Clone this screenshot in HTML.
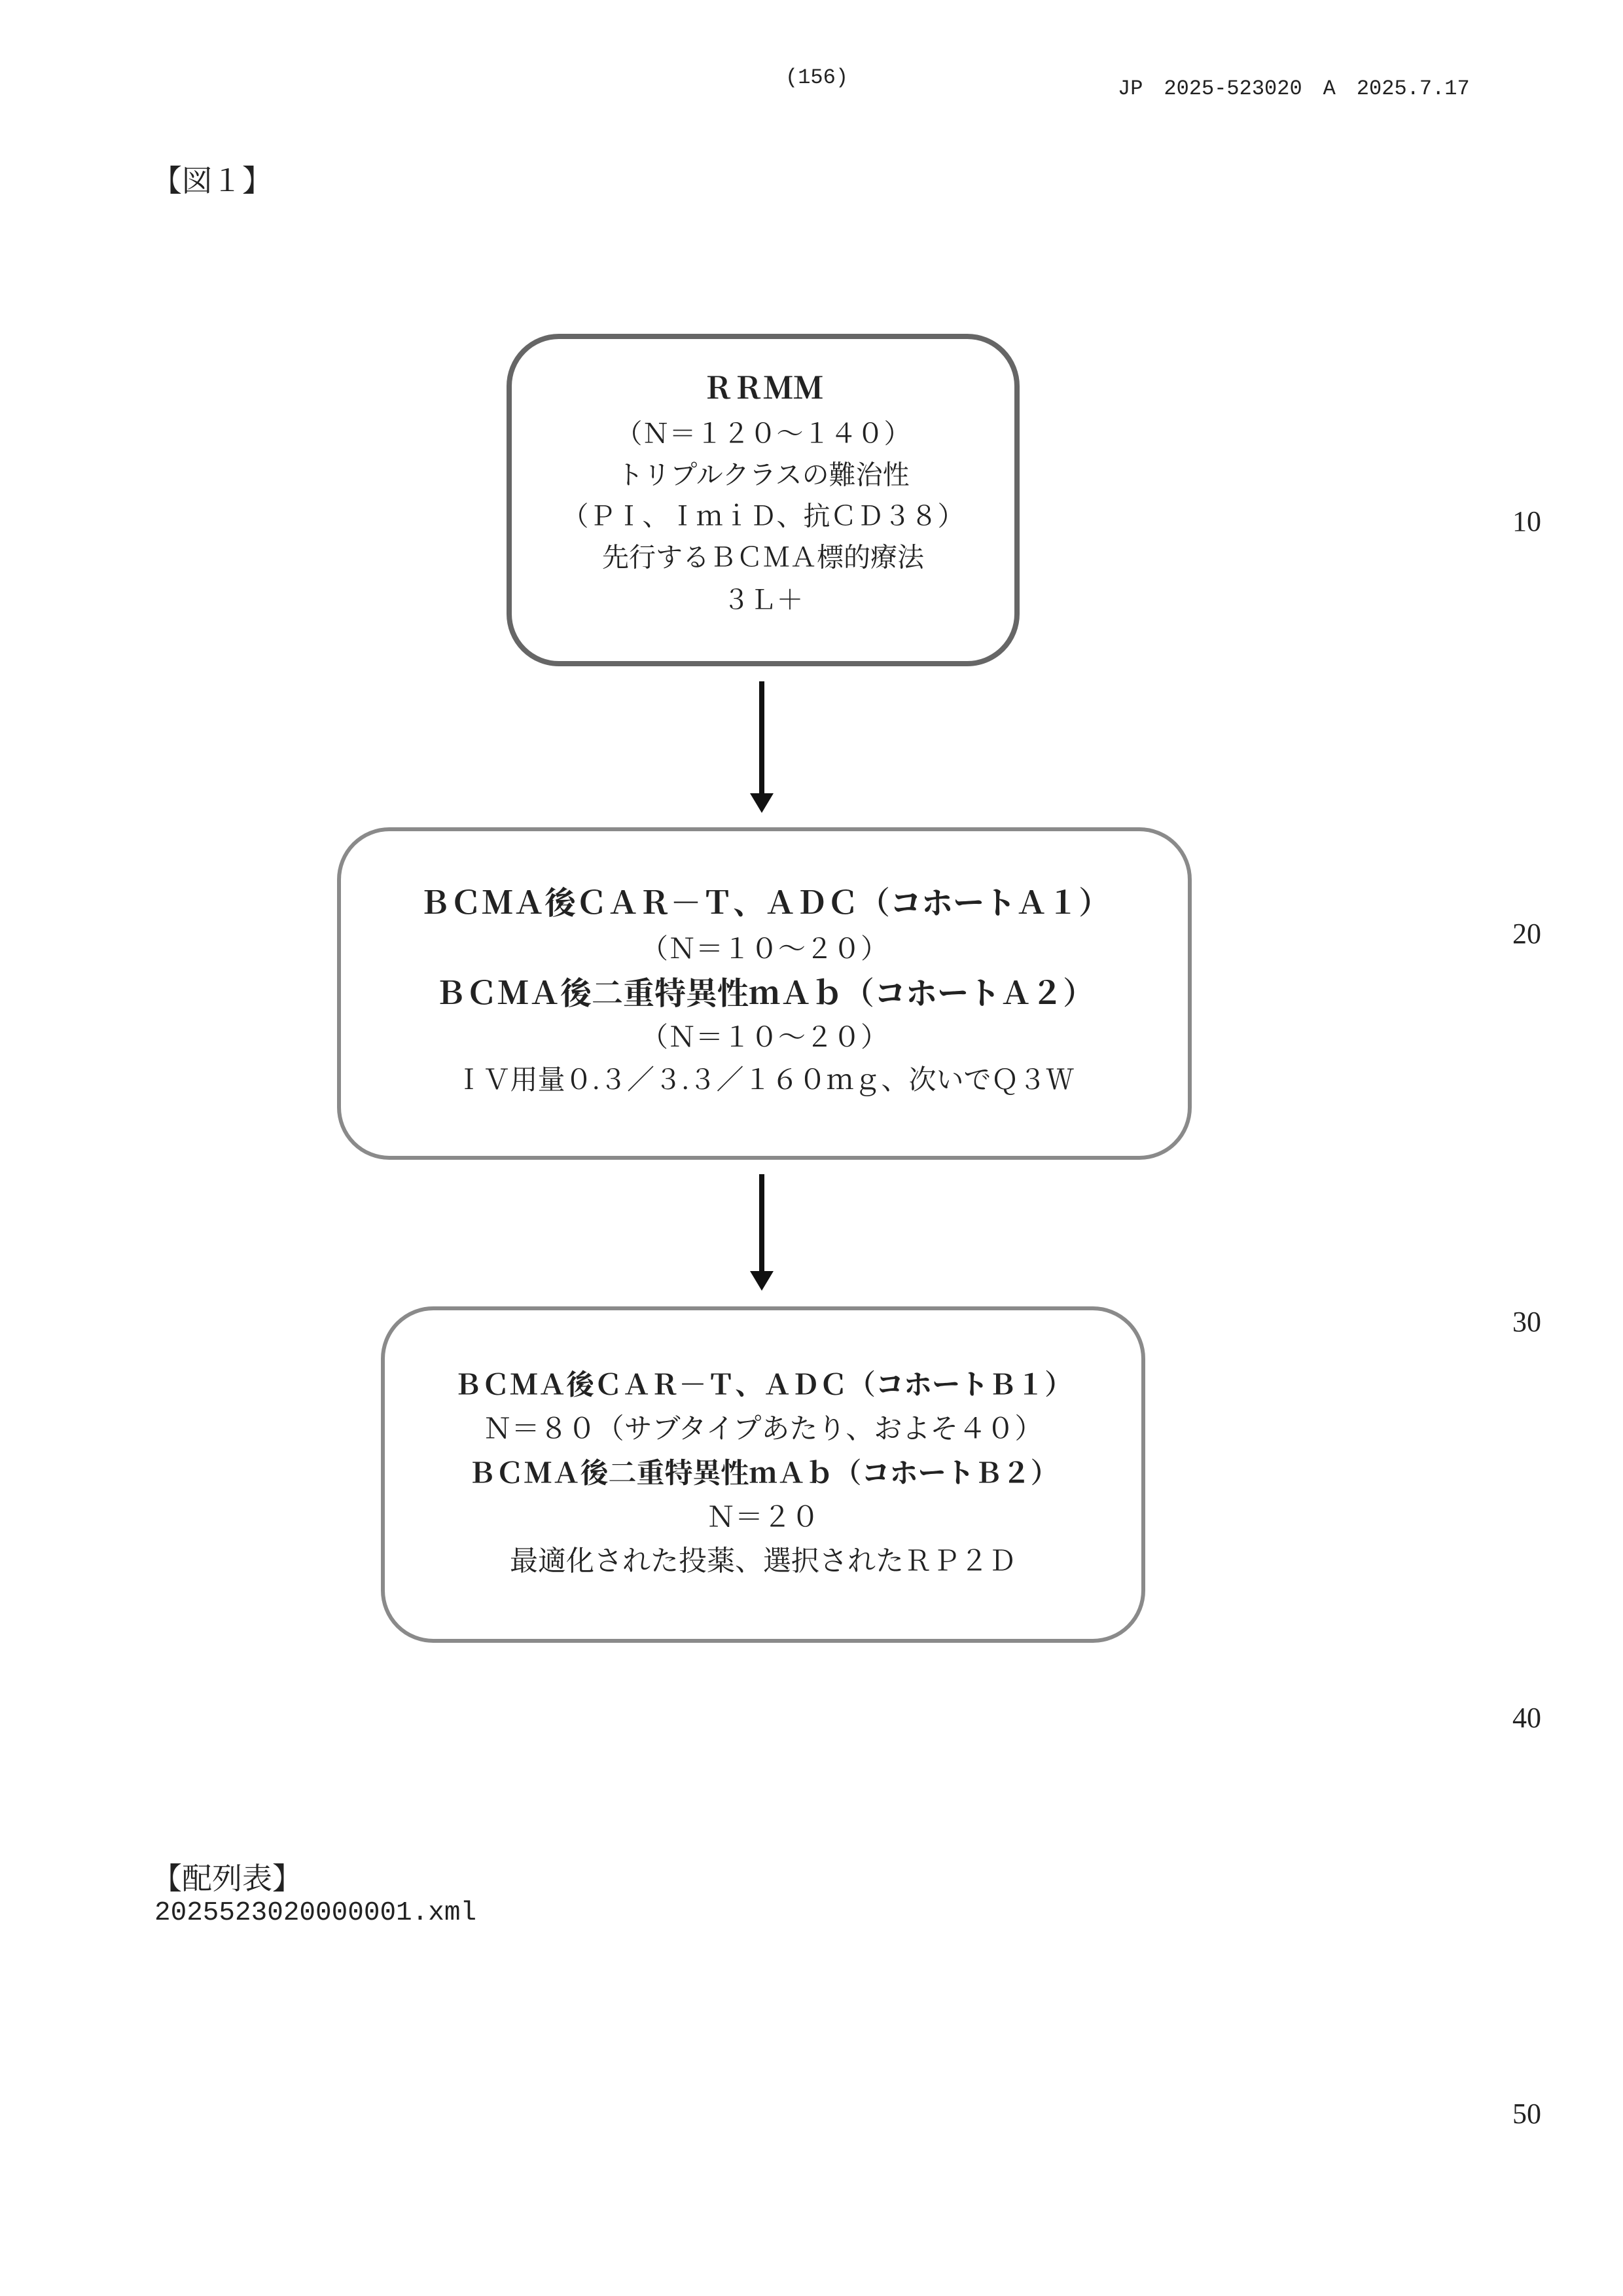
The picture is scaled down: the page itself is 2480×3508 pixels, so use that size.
<!DOCTYPE html>
<html><head><meta charset="utf-8"><style>
body{margin:0;background:#fff;}
#p{position:relative;width:2480px;height:3508px;background:#fff;overflow:hidden;font-family:"Liberation Serif","Noto Serif CJK SC",serif;color:#222;}
.a{position:absolute;white-space:nowrap;}
.box{position:absolute;border:6px solid #8a8a8a;border-radius:80px;box-sizing:border-box;}
.t{position:absolute;left:0;width:100%;text-align:center;white-space:nowrap;line-height:1;transform:translateY(-50%);}
.b{font-weight:bold;}
.mono{font-family:"Liberation Mono","Noto Sans CJK JP",monospace;}
.arr{position:absolute;width:8px;background:#111;}
.head{position:absolute;width:0;height:0;border-left:18px solid transparent;border-right:18px solid transparent;border-top:30px solid #111;}
</style></head><body><div id="p">
<div class="a mono" style="left:1200px;top:100px;font-size:32px;">(156)</div>
<div class="a mono" style="left:1708px;top:108px;font-size:32px;">JP　2025-523020　A　2025.7.17</div>
<div class="a" style="left:232px;top:240px;font-size:46px;font-family:'Noto Serif CJK JP',serif;">【図１】</div>

<div class="box" style="left:774px;top:510px;width:784px;height:508px;border-width:8px;border-color:#666;">
 <div class="t b" style="top:76px;font-size:46px;">ＲＲＭＭ</div>
 <div class="t" style="top:145px;font-size:41px;">（Ｎ＝１２０～１４０）</div>
 <div class="t" style="top:208px;font-size:41px;">トリプルクラスの難治性</div>
 <div class="t" style="top:271px;font-size:41px;">（ＰＩ、ＩｍｉＤ、抗ＣＤ３８）</div>
 <div class="t" style="top:334px;font-size:41px;">先行するＢＣＭＡ標的療法</div>
 <div class="t" style="top:399px;font-size:41px;">３Ｌ＋</div>
</div>
<div class="arr" style="left:1160px;top:1041px;height:175px;"></div>
<div class="head" style="left:1146px;top:1212px;"></div>

<div class="box" style="left:515px;top:1264px;width:1306px;height:508px;">
 <div class="t b" style="top:111px;font-size:48px;">ＢＣＭＡ後ＣＡＲ－Ｔ、ＡＤＣ（コホートＡ１）</div>
 <div class="t" style="top:181px;font-size:42px;">（Ｎ＝１０～２０）</div>
 <div class="t b" style="top:249px;font-size:48px;">ＢＣＭＡ後二重特異性ｍＡｂ（コホートＡ２）</div>
 <div class="t" style="top:316px;font-size:42px;">（Ｎ＝１０～２０）</div>
 <div class="t" style="top:381px;font-size:42px;">ＩＶ用量０.３／３.３／１６０ｍｇ、次いでＱ３Ｗ</div>
</div>
<div class="arr" style="left:1160px;top:1794px;height:152px;"></div>
<div class="head" style="left:1146px;top:1942px;"></div>

<div class="box" style="left:582px;top:1996px;width:1168px;height:514px;">
 <div class="t b" style="top:115px;font-size:43px;">ＢＣＭＡ後ＣＡＲ－Ｔ、ＡＤＣ（コホートＢ１）</div>
 <div class="t" style="top:182px;font-size:43px;">Ｎ＝８０（サブタイプあたり、およそ４０）</div>
 <div class="t b" style="top:250px;font-size:43px;">ＢＣＭＡ後二重特異性ｍＡｂ（コホートＢ２）</div>
 <div class="t" style="top:317px;font-size:43px;">Ｎ＝２０</div>
 <div class="t" style="top:384px;font-size:43px;">最適化された投薬、選択されたＲＰ２Ｄ</div>
</div>

<div class="a" style="left:2311px;top:771px;font-size:44px;">10</div>
<div class="a" style="left:2311px;top:1401px;font-size:44px;">20</div>
<div class="a" style="left:2311px;top:1994px;font-size:44px;">30</div>
<div class="a" style="left:2311px;top:2599px;font-size:44px;">40</div>
<div class="a" style="left:2311px;top:3204px;font-size:44px;">50</div>

<div class="a" style="left:232px;top:2834px;font-size:46px;font-family:'Noto Serif CJK JP',serif;">【配列表】</div>
<div class="a mono" style="left:236px;top:2900px;font-size:41px;">2025523020000001.xml</div>
</div></body></html>
